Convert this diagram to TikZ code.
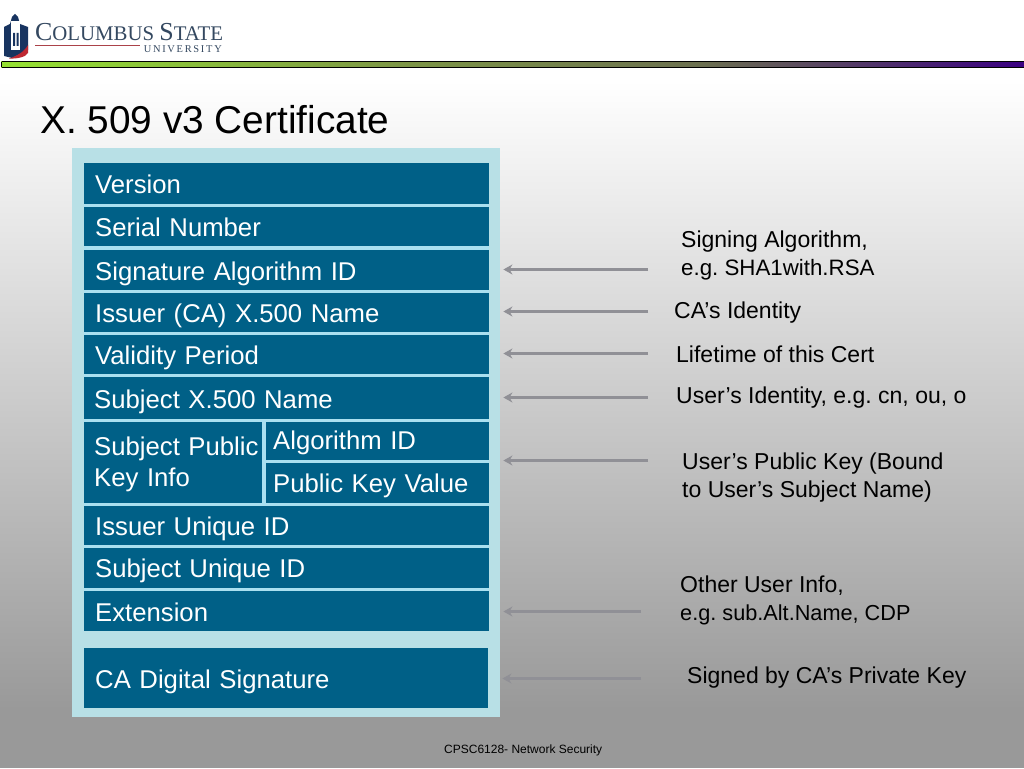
\documentclass[tikz,border=0pt]{standalone}
\usepackage{fontspec}
\setmainfont{Liberation Sans}
\newfontfamily\logofont{Liberation Serif}
\usetikzlibrary{arrows.meta, calc}
\definecolor{fieldblue}{RGB}{0,96,135}
\definecolor{panelblue}{RGB}{184,224,230}
\definecolor{gapblue}{RGB}{170,224,240}
\definecolor{pointergray}{RGB}{144,144,150}
\definecolor{logoblue}{RGB}{24,52,96}
\definecolor{logored}{RGB}{190,40,50}
\definecolor{logotext}{RGB}{52,72,96}
\definecolor{rulegreen}{RGB}{150,225,50}
\definecolor{ruleolive}{RGB}{125,150,70}
\definecolor{rulegray}{RGB}{108,112,80}
\definecolor{rulepurple}{RGB}{58,0,130}
\tikzset{
    fieldbox/.style={fill=fieldblue, text=white, anchor=north west, inner sep=0pt, text depth=0pt, font=\frenchspacing\fontsize{25.7}{31}\selectfont, align=left},
    notetext/.style={anchor=west, inner sep=0pt, text=black, font=\frenchspacing\fontsize{23}{28}\selectfont, align=left},
    pointer/.style={draw=pointergray, line width=3pt, -{Stealth[length=9pt, width=10pt]}, shorten >=14pt}
}
\begin{document}
\begin{tikzpicture}[x=1pt, y=-1pt]
    \useasboundingbox (0,0) rectangle (1024,768);

    % Background
    \fill[white] (0,0) rectangle (1024,80);
    \shade[top color=white, bottom color=black!40] (0,80) rectangle (1024,710);
    \fill[black!40] (0,710) rectangle (1024,768);

    % Header rule
    \shade[left color=rulegreen, right color=ruleolive] (1,61) rectangle (400,67);
    \shade[left color=ruleolive, right color=rulegray] (400,61) rectangle (700,67);
    \shade[left color=rulegray, right color=rulepurple] (700,61) rectangle (1024,67);
    \draw[black, line width=1pt] (1.5,61.5) -- (1024,61.5) (1.5,67) -- (1024,67) (1.5,61.5) -- (1.5,67);

    % Logo
    \fill[logoblue] (4,27) -- (10,24) -- (12,17) -- (15,14) -- (18,17) -- (20,24) -- (28,27) -- (28,50) -- (12,58) -- (4,56) -- cycle;
    \fill[white] (11,21) rectangle (20,50);
    \fill[logoblue] (13,33) rectangle (15,46) (16.5,33) rectangle (18.5,46);
    \fill[logored] (9,58.5) .. controls (17,56) and (24,52) .. (28,45) -- (28,53) .. controls (26,57) and (17,59) .. (9,58.5) -- cycle;
    \node[logotext, anchor=base west, inner sep=0pt, font=\logofont\fontsize{25.9}{25}\selectfont] (logoname) at (35,41) {C\fontsize{20.8}{20}\selectfont OLUMBUS \fontsize{25.9}{25}\selectfont S\fontsize{20.8}{20}\selectfont TATE};
    \draw[logored!70!gray, line width=1pt] (35,46) -- (140,46);
    \node[logotext, anchor=base east, inner sep=0pt, font=\logofont\fontsize{10.4}{10}\selectfont] (logouni) at (222,52.5) {U\,N\,I\,V\,E\,R\,S\,I\,T\,Y};

    % Title
    \node[anchor=base west, inner sep=0pt, font=\frenchspacing\fontsize{38.8}{45}\selectfont] (title) at (40,133) {X. 509 v3 Certificate};

    % Certificate panel
    \fill[panelblue] (72,148) rectangle (500,717);
    \fill[gapblue] (84,163) rectangle (489,631);

    % Fields
    \node[fieldbox, minimum width=405pt, minimum height=41pt, text width=383pt, text height=19.6pt] (version) at (84,163) {Version};
    \node[fieldbox, minimum width=405pt, minimum height=39pt, text width=383pt, text height=19.6pt] (serial) at (84,207) {Serial Number};
    \node[fieldbox, minimum width=405pt, minimum height=40pt, text width=383pt, text height=20.6pt] (sigalg) at (84,250) {Signature Algorithm ID};
    \node[fieldbox, minimum width=405pt, minimum height=39pt, text width=383pt, text height=19.6pt] (issuer) at (84,293) {Issuer (CA) X.500 Name};
    \node[fieldbox, minimum width=405pt, minimum height=39pt, text width=383pt, text height=19.6pt] (validity) at (84,335) {Validity Period};
    \node[fieldbox, minimum width=405pt, minimum height=42pt, text width=385pt, text height=20.6pt] (subject) at (84,377) {Subject X.500 Name};
    \node[fieldbox, minimum width=178pt, minimum height=81pt, text width=158pt, text height=0pt, text depth=14.4pt] (pubinfo) at (84,422) {\mbox{Subject Public}\\[0pt]Key Info};
    \node[fieldbox, minimum width=223pt, minimum height=38pt, text width=209pt, text height=16.6pt] (pubalg) at (266,422) {Algorithm ID};
    \node[fieldbox, minimum width=223pt, minimum height=40pt, text width=209pt, text height=18.6pt] (pubkey) at (266,463) {Public Key Value};
    \node[fieldbox, minimum width=405pt, minimum height=39pt, text width=383pt, text height=18.6pt] (issuerid) at (84,506) {Issuer Unique ID};
    \node[fieldbox, minimum width=405pt, minimum height=40pt, text width=383pt, text height=18.6pt] (subjectid) at (84,548) {Subject Unique ID};
    \node[fieldbox, minimum width=405pt, minimum height=40pt, text width=383pt, text height=20.6pt] (extension) at (84,591) {Extension};
    \node[fieldbox, minimum width=404pt, minimum height=60pt, text width=382pt, text height=20.6pt] (casig) at (84,648) {CA Digital Signature};

    % Notes
    \node[notetext] (notealg) at (681,255.5) {Signing Algorithm,\\\fontsize{22.3}{28}\selectfont e.g. SHA1with.RSA};
    \node[notetext] (noteca) at (674,313) {CA’s Identity};
    \node[notetext] (notelife) at (676,354) {Lifetime of this Cert};
    \node[notetext] (noteuser) at (676,398) {User’s Identity, e.g. cn, ou, o};
    \node[notetext] (notekey) at (682,478) {User’s Public Key (Bound\\to User’s Subject Name)};
    \node[notetext] (noteother) at (680,600) {Other User Info,\\\fontsize{21.7}{28}\selectfont e.g. sub.Alt.Name, CDP};
    \node[notetext] (notesigned) at (687,678) {Signed by CA’s Private Key};

    % Arrow tails
    \coordinate (tailalg) at (648,269.5);
    \coordinate (tailca) at (648,311.5);
    \coordinate (taillife) at (648,353.5);
    \coordinate (tailuser) at (648,397.5);
    \coordinate (tailkey) at (648,460.5);
    \coordinate (tailother) at (641,611.5);
    \coordinate (tailsigned) at (641,678.5);

    % Arrows
    \draw[pointer] (tailalg) -- (tailalg -| sigalg.east);
    \draw[pointer] (tailca) -- (tailca -| issuer.east);
    \draw[pointer] (taillife) -- (taillife -| validity.east);
    \draw[pointer] (tailuser) -- (tailuser -| subject.east);
    \draw[pointer] (tailkey) -- (tailkey -| pubkey.east);
    \draw[pointer] (tailother) -- (tailother -| extension.east);
    \draw[pointer] (tailsigned) -- (tailsigned -| casig.east);

    % Footer
    \node[anchor=base west, inner sep=0pt, font=\fontsize{12}{14}\selectfont] (footer) at (444,753) {CPSC6128- Network Security};
\end{tikzpicture}
\end{document}
